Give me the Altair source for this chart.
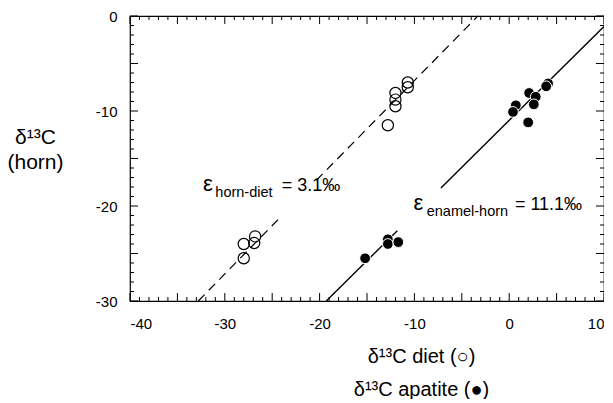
import altair as alt
import pandas as pd

# ---- data ----
diet_x = [-28.0, -26.8, -26.9, -28.0, -10.7, -10.7, -12.0, -12.0, -12.0, -12.8]
diet_y = [-24.0, -23.2, -23.9, -25.5, -7.0, -7.5, -8.1, -8.8, -9.5, -11.5]

apatite_x = [0.7, 0.4, 2.1, 2.8, 2.6, 4.1, 3.9, 2.0, -15.2, -12.8, -12.8, -11.7]
apatite_y = [-9.4, -10.1, -8.1, -8.5, -9.3, -7.1, -7.4, -11.2, -25.5, -23.5, -24.0, -23.8]

# fitted lines (drawn in two pieces, interrupted behind the labels)
line_kind = ["dashed", "dashed", "solid", "solid"]
line_x1 = [-32.8, -20.35, -19.3, -7.2]
line_y1 = [-30.0, -17.3, -30.0, -18.1]
line_x2 = [-24.2, -3.3, -11.8, 10.0]
line_y2 = [-21.25, 0.0, -22.6, -1.1]

# annotation pieces
ann_eps_txt = ["ε", "ε"]
ann_eps_x = [-32.3, -10.1]
ann_eps_y = [-18.4, -20.4]
ann_main_txt = ["= 3.1‰", "= 11.1‰"]
ann_main_x = [-24.0, 0.6]
ann_main_y = [-18.4, -20.4]
ann_sub_txt = ["horn-diet", "enamel-horn"]
ann_sub_x = [-31.0, -8.7]
ann_sub_y = [-19.0, -21.0]

x_ticks = [-40, -30, -20, -10, 0, 10]
y_ticks = [0, -10, -20, -30]
x_minor = [v for v in range(-40, 11) if v % 5 != 0]
x_mid = [v for v in range(-40, 11) if v % 5 == 0]
y_minor = [v for v in range(-30, 1) if v % 5 != 0]
y_mid = [v for v in range(-30, 1) if v % 5 == 0]

W, H = 474, 285
FONT = "Liberation Sans"

xs = alt.Scale(domain=[-40, 10], nice=False, zero=False)
ys = alt.Scale(domain=[-30, 0], nice=False, zero=False)

X_AXIS = alt.Axis(
    values=x_ticks, ticks=False, tickSize=0, domain=False, grid=False,
    labelExpr="'' + datum.value", labelPadding=15, labelFontSize=15,
    labelFont=FONT, labelColor="black",
    title=["δ¹³C diet (○)", "δ¹³C apatite (●)"], titleFont=FONT,
    titleFontSize=20, titleFontWeight="normal", titleColor="black",
    titleX=291, titleY=61, titleAlign="center", titleBaseline="alphabetic",
    titleLineHeight=33, titleAnchor="start")
Y_AXIS = alt.Axis(
    values=y_ticks, ticks=False, tickSize=0, domain=False, grid=False,
    labelExpr="'' + datum.value", labelPadding=13, labelFontSize=15,
    labelFont=FONT, labelColor="black",
    title=["δ¹³C", "(horn)"], titleFont=FONT, titleFontSize=21,
    titleFontWeight="normal", titleColor="black", titleAngle=0,
    titleX=-95, titleY=127, titleAlign="center", titleBaseline="alphabetic",
    titleLineHeight=25, titleAnchor="start")


def X(field):
    return alt.X(field, scale=xs, axis=X_AXIS)


def Y(field):
    return alt.Y(field, scale=ys, axis=Y_AXIS)


diet = pd.DataFrame({"x": diet_x, "y": diet_y})
apat = pd.DataFrame({"x": apatite_x, "y": apatite_y, "o": list(range(len(apatite_x)))})
lines = pd.DataFrame({"k": line_kind, "x1": line_x1, "y1": line_y1, "x2": line_x2, "y2": line_y2})

open_pts = alt.Chart(diet).mark_point(
    shape="circle", filled=False, stroke="black", strokeWidth=1.2, size=125, opacity=1
).encode(x=X("x:Q"), y=Y("y:Q"))

filled_pts = alt.Chart(apat).mark_circle(
    color="black", stroke="white", strokeWidth=1, size=115, opacity=1
).encode(x=X("x:Q"), y=Y("y:Q"), order="o:Q")

dashed = alt.Chart(lines).transform_filter("datum.k == 'dashed'").mark_rule(
    color="black", strokeWidth=1.2, strokeDash=[9, 6]
).encode(x=X("x1:Q"), y=Y("y1:Q"), x2="x2:Q", y2="y2:Q")

solid = alt.Chart(lines).transform_filter("datum.k == 'solid'").mark_rule(
    color="black", strokeWidth=1.4
).encode(x=X("x1:Q"), y=Y("y1:Q"), x2="x2:Q", y2="y2:Q")


def text_layer(txt, xv, yv, size):
    return alt.Chart(pd.DataFrame({"t": txt, "x": xv, "y": yv})).mark_text(
        align="left", baseline="alphabetic", font=FONT, fontSize=size, color="black"
    ).encode(x=X("x:Q"), y=Y("y:Q"), text="t:N")


ann_eps = text_layer(ann_eps_txt, ann_eps_x, ann_eps_y, 22)
ann_main = text_layer(ann_main_txt, ann_main_x, ann_main_y, 18)
ann_sub = text_layer(ann_sub_txt, ann_sub_x, ann_sub_y, 14.5)


def xtick_layers(values, length):
    base = alt.Chart(pd.DataFrame({"v": values})).mark_rule(color="black", strokeWidth=1)
    bottom = base.encode(x=X("v:Q"), y=alt.value(H), y2=alt.value(H - length))
    top = base.encode(x=X("v:Q"), y=alt.value(0), y2=alt.value(length))
    return [bottom, top]


def ytick_layers(values, length):
    base = alt.Chart(pd.DataFrame({"v": values})).mark_rule(color="black", strokeWidth=1)
    left = base.encode(y=Y("v:Q"), x=alt.value(0), x2=alt.value(length))
    right = base.encode(y=Y("v:Q"), x=alt.value(W), x2=alt.value(W - length))
    return [left, right]


tick_layers = (xtick_layers(x_minor, 4) + xtick_layers(x_mid, 8)
               + ytick_layers(y_minor, 4) + ytick_layers(y_mid, 8))

chart = alt.layer(
    open_pts, dashed, solid, filled_pts, ann_eps, ann_main, ann_sub, *tick_layers
).properties(
    width=W, height=H,
    padding={"left": 122, "top": 8, "right": 0, "bottom": 98},
    autosize=alt.AutoSizeParams(type="none"),
    background="white",
).configure_view(stroke="black", strokeWidth=1.2)

chart.save("out.html", embed_options={"renderer": "svg", "actions": False})
